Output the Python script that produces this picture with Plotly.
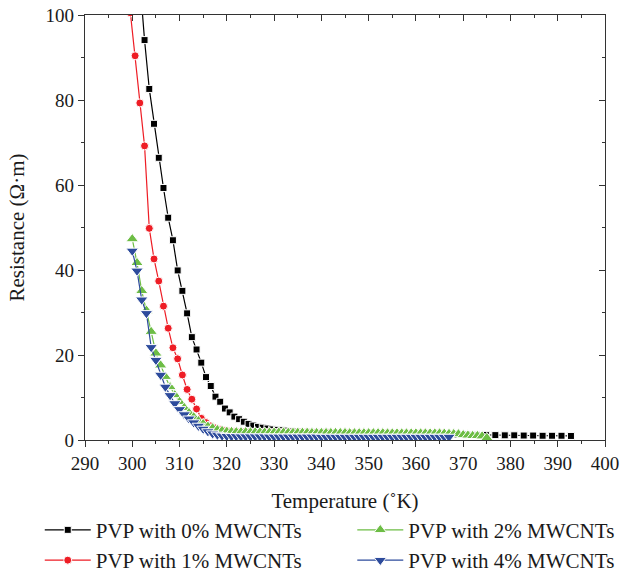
import plotly.graph_objects as go

# PVP with 0% MWCNTs
temp_0 = [301.6, 302.6, 303.6, 304.6, 305.6, 306.6, 307.6, 308.6, 309.6, 310.6,
          311.6, 312.6, 313.6, 314.6, 315.6, 316.6, 317.6, 318.6, 319.6, 320.6,
          321.6, 322.6, 323.6, 324.6, 325.6, 326.6, 327.6, 328.6, 329.6, 330.6,
          331.6, 332.6, 333.6, 334.6, 335.6,
          336.8, 338.8, 340.8, 342.8, 344.8, 346.8, 348.8, 350.8, 352.8, 354.8,
          356.8, 358.8, 360.8, 362.8, 364.8, 366.8, 368.8, 370.8, 372.8, 374.8,
          376.8, 378.8, 380.8, 382.8, 384.8, 386.8, 388.8, 390.8, 392.8]
res_0 = [108.0, 94.1, 82.6, 74.4, 66.4, 59.3, 52.3, 47.0, 39.9, 35.1,
         29.8, 24.2, 21.3, 18.2, 14.8, 12.7, 10.2, 9.0, 7.4, 6.5,
         5.5, 4.9, 4.3, 3.8, 3.4, 3.1, 2.9, 2.7, 2.5, 2.4,
         2.3, 2.2, 2.1, 2.0, 1.95,
         1.9, 1.85, 1.8, 1.75, 1.7, 1.65, 1.6, 1.6, 1.55, 1.5,
         1.5, 1.45, 1.4, 1.4, 1.35, 1.3, 1.3, 1.25, 1.2, 1.2,
         1.15, 1.1, 1.1, 1.05, 1.05, 1.0, 1.0, 1.0, 0.95]

# PVP with 1% MWCNTs
temp_1 = [299.6, 300.6, 301.6, 302.6, 303.6, 304.6, 305.6, 306.6, 307.6, 308.6,
          309.6, 310.6, 311.6, 312.6, 313.6, 314.6, 315.6, 316.6, 317.6, 318.6,
          319.6, 320.6, 321.6, 322.6, 323.6, 324.6, 325.6, 326.6, 327.6, 328.6,
          329.6, 330.6, 331.6, 332.6, 333.6, 334.6, 335.6, 336.6, 337.6, 338.6,
          339.6, 340.6, 341.6, 342.6, 343.6, 344.6, 345.6, 346.6, 347.6, 348.6,
          349.6, 350.6, 351.6, 352.6, 353.6, 354.6, 355.6, 356.6, 357.6, 358.6,
          359.6, 360.6, 361.6, 362.6, 363.6, 364.6, 365.6]
res_1 = [100.5, 90.4, 79.3, 69.2, 49.8, 42.6, 37.4, 31.5, 26.3, 21.7,
         19.1, 15.3, 11.9, 9.6, 7.3, 5.1, 4.1, 3.3, 2.8, 2.4,
         2.2, 2.0, 1.95, 1.9, 1.9, 1.85, 1.85, 1.8, 1.8, 1.8,
         1.75, 1.75, 1.75, 1.7, 1.7, 1.7, 1.7, 1.7, 1.65, 1.65,
         1.65, 1.65, 1.65, 1.6, 1.6, 1.6, 1.6, 1.6, 1.6, 1.6,
         1.55, 1.55, 1.55, 1.55, 1.55, 1.55, 1.55, 1.5, 1.5, 1.5,
         1.5, 1.5, 1.5, 1.5, 1.5, 1.5, 1.5]

# PVP with 2% MWCNTs
temp_2 = [300, 301, 302, 303, 304, 305, 306, 307, 308, 309,
          310, 311, 312, 313, 314, 315, 316, 317, 318, 319,
          320, 321, 322, 323, 324, 325, 326, 327, 328, 329,
          330, 331, 332, 333, 334, 335, 336, 337, 338, 339,
          340, 341, 342, 343, 344, 345, 346, 347, 348, 349,
          350, 351, 352, 353, 354, 355, 356, 357, 358, 359,
          360, 361, 362, 363, 364, 365, 366, 367, 368, 369,
          370, 371, 372, 373, 374, 375]
res_2 = [47.3, 41.7, 35.1, 30.5, 25.5, 20.4, 17.6, 14.9, 12.5, 10.6,
         9.0, 7.6, 6.4, 5.4, 4.5, 3.8, 3.2, 2.8, 2.4, 2.2,
         2.0, 1.95, 1.9, 1.9, 1.9, 1.85, 1.85, 1.85, 1.8, 1.8,
         1.8, 1.8, 1.8, 1.75, 1.75, 1.75, 1.75, 1.75, 1.7, 1.7,
         1.7, 1.7, 1.7, 1.7, 1.7, 1.7, 1.65, 1.65, 1.65, 1.65,
         1.65, 1.65, 1.65, 1.65, 1.6, 1.6, 1.6, 1.6, 1.6, 1.6,
         1.6, 1.6, 1.6, 1.6, 1.6, 1.6, 1.55, 1.5, 1.45, 1.4,
         1.2, 1.1, 1.0, 1.0, 0.9, 0.5]

# PVP with 4% MWCNTs
temp_4 = [300, 301, 302, 303, 304, 305, 306, 307, 308, 309,
          310, 311, 312, 313, 314, 315, 316, 317, 318, 319,
          320, 321, 322, 323, 324, 325, 326, 327, 328, 329,
          330, 331, 332, 333, 334, 335, 336, 337, 338, 339,
          340, 341, 342, 343, 344, 345, 346, 347, 348, 349,
          350, 351, 352, 353, 354, 355, 356, 357, 358, 359,
          360, 361, 362, 363, 364, 365, 366, 367]
res_4 = [44.5, 39.8, 33.0, 29.8, 21.8, 18.8, 15.3, 12.5, 10.5, 8.6,
         7.2, 6.0, 5.0, 4.1, 3.3, 2.6, 2.0, 1.5, 1.2, 1.0,
         0.9, 0.85, 0.85, 0.8, 0.8, 0.8, 0.8, 0.8, 0.8, 0.75,
         0.75, 0.75, 0.75, 0.75, 0.75, 0.75, 0.75, 0.75, 0.75, 0.75,
         0.7, 0.7, 0.7, 0.7, 0.7, 0.7, 0.7, 0.7, 0.7, 0.7,
         0.7, 0.7, 0.7, 0.7, 0.7, 0.7, 0.7, 0.7, 0.7, 0.7,
         0.7, 0.7, 0.7, 0.7, 0.7, 0.7, 0.7, 0.7]

serif = "Liberation Serif"
frame = "#333333"
text_col = "#1a1a1a"

# name, x, y, colour, marker, size, which legend column
series = [
    ("PVP with 0% MWCNTs", temp_0, res_0, "#000000", "square", 7, "legend"),
    ("PVP with 1% MWCNTs", temp_1, res_1, "#ee1d25", "circle", 8, "legend"),
    ("PVP with 2% MWCNTs", temp_2, res_2, "#6dbd45", "triangle-up", 11, "legend2"),
    ("PVP with 4% MWCNTs", temp_4, res_4, "#2d4b9c", "triangle-down", 11, "legend2"),
]

fig = go.Figure()
for name, x, y, color, symbol, size, leg in series:
    fig.add_trace(go.Scatter(
        x=x, y=y, name=name, mode="lines+markers",
        line=dict(color=color, width=1.2),
        marker=dict(symbol=symbol, size=size, color=color,
                    line=dict(color="white", width=1)),
        legend=leg,
    ))

# invisible trace only to hold the mirrored (inward) ticks on top and right
fig.add_trace(go.Scatter(x=[290], y=[0], xaxis="x2", yaxis="y2",
                         mode="markers", marker=dict(opacity=0),
                         showlegend=False, hoverinfo="skip"))

tick_font = dict(family=serif, size=19, color=text_col)
title_font = dict(family=serif, size=21, color=text_col)
leg_common = dict(
    orientation="v", yanchor="top", xanchor="left", itemwidth=46,
    font=dict(family=serif, size=21, color=text_col),
    bgcolor="rgba(0,0,0,0)", tracegroupgap=0,
)

fig.update_layout(
    width=623, height=573,
    margin=dict(l=85, r=18, t=15, b=133, autoexpand=False),
    paper_bgcolor="white", plot_bgcolor="white",
    font=dict(family=serif, color=text_col),
    xaxis=dict(
        range=[290, 400], dtick=10, tick0=290, automargin=False,
        showline=True, linecolor=frame, linewidth=1.2,
        ticks="outside", ticklen=6, tickwidth=1.2, tickcolor=frame,
        minor=dict(dtick=5, ticks="outside", ticklen=3, tickwidth=1.2, tickcolor=frame),
        showgrid=False, zeroline=False, tickfont=tick_font, ticklabeloverflow="allow",
        title=dict(text="Temperature (˚K)", font=title_font, standoff=20),
    ),
    yaxis=dict(
        range=[0, 100], dtick=20, automargin=False,
        showline=True, linecolor=frame, linewidth=1.2,
        ticks="outside", ticklen=6, tickwidth=1.2, tickcolor=frame,
        minor=dict(dtick=10, ticks="outside", ticklen=3, tickwidth=1.2, tickcolor=frame),
        showgrid=False, zeroline=False, tickfont=tick_font, ticklabeloverflow="allow",
        title=dict(text="Resistance (Ω·m)", font=title_font, standoff=15),
    ),
    xaxis2=dict(
        range=[290, 400], dtick=10, tick0=290, overlaying="x", side="top",
        showline=True, linecolor=frame, linewidth=1.2, automargin=False,
        ticks="inside", ticklen=6, tickwidth=1.2, tickcolor=frame,
        minor=dict(dtick=5, ticks="inside", ticklen=3, tickwidth=1.2, tickcolor=frame),
        showticklabels=False, showgrid=False, zeroline=False,
    ),
    yaxis2=dict(
        range=[0, 100], dtick=20, overlaying="y", side="right", anchor="x2",
        showline=True, linecolor=frame, linewidth=1.2, automargin=False,
        ticks="inside", ticklen=6, tickwidth=1.2, tickcolor=frame,
        minor=dict(dtick=10, ticks="inside", ticklen=3, tickwidth=1.2, tickcolor=frame),
        showticklabels=False, showgrid=False, zeroline=False,
    ),
    legend=dict(x=-0.087, y=-0.164, **leg_common),
    legend2=dict(x=0.514, y=-0.164, **leg_common),
)

# drop the browser's default 8px body margin so the figure sits at the window corner
fig.write_html("out.html", config={"displayModeBar": False},
               post_script="document.body.style.margin = '0';")
